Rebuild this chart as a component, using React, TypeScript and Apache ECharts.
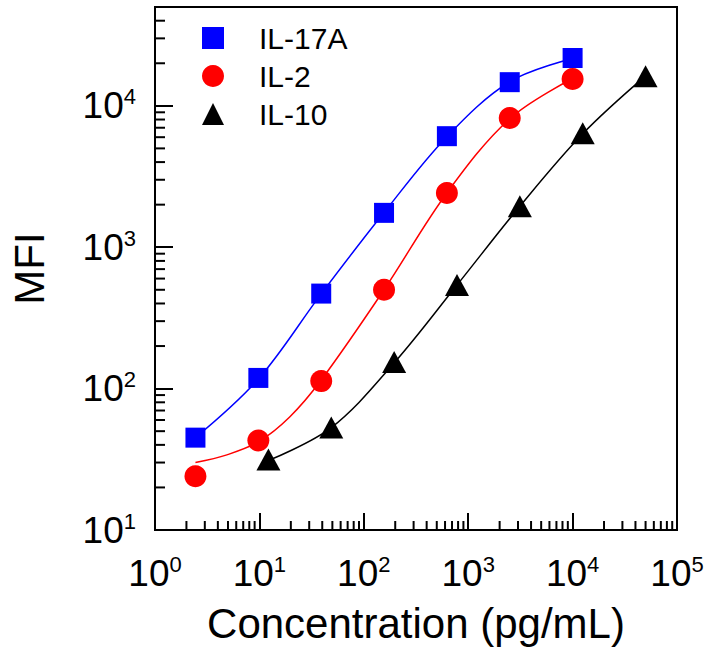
import React, { useEffect, useRef } from "react";
import * as echarts from "echarts";

// Concentrations (pg/mL), 4-fold dilution series
const concA = [2.44, 9.77, 39.1, 156.25, 625, 2500, 10000];
const concB = [12.2, 48.8, 195.3, 781.25, 3125, 12500, 50000];

// Measured MFI
const il17a = [45, 119, 470, 1750, 6100, 14700, 21800];
const il2 = [24, 43, 113, 500, 2420, 8200, 15500];
const il10 = [31.5, 53, 154, 540, 1950, 6400, 16200];

// Fitted curves
const fit17aX = [2.44, 9.77, 39.1, 156.25, 625, 2500, 10000];
const fit17aY = [45, 117, 468, 1760, 6050, 14800, 21600];
const fit2X = [2.44, 4.88, 9.77, 19.5, 39.1, 156.25, 625, 2500, 10000];
const fit2Y = [30, 34, 42, 63, 115, 500, 2420, 8100, 15600];
const fit10X = [12.2, 48.8, 195.3, 781.25, 3125, 12500, 50000];
const fit10Y = [31, 53, 152, 540, 1950, 6350, 16300];

const legendNames = ["IL-17A", "IL-2", "IL-10"];
const xTitle = "Concentration (pg/mL)";
const yTitle = "MFI";

const xMin = 1;
const xMax = 100000;
const yMin = 10;
const yMax = 50000;
const minorMult = [2, 3, 4, 5, 6, 7, 8, 9];
const xDecades = [1, 10, 100, 1000, 10000];
const yDecades = [10, 100, 1000, 10000];

const xMinor: number[] = [];
xDecades.forEach((d) => minorMult.forEach((m) => xMinor.push(m * d)));
const yMinor: number[] = [];
yDecades.forEach((d) => minorMult.forEach((m) => { if (m * d < yMax) yMinor.push(m * d); }));

const FONT = "'Liberation Sans', Arial, sans-serif";

const pow10Label = (v: number) => {
  const e = Math.round(Math.log10(v));
  if (Math.abs(v - Math.pow(10, e)) > 1e-6 * v) return "";
  return `{b|10}{s|${e}}`;
};

const richLabel = {
  b: { fontSize: 37, lineHeight: 40, fontFamily: FONT, color: "#000" },
  s: { fontSize: 22, lineHeight: 22, fontFamily: FONT, color: "#000", verticalAlign: "top" },
};

const zip = (xs: number[], ys: number[]) => xs.map((x, i) => [x, ys[i]]);

export default function App() {
  const ref = useRef<HTMLDivElement>(null);
  useEffect(() => {
    if (!ref.current) return;
    const chart = echarts.init(ref.current, null, { renderer: "svg" });
    chart.setOption({
      animation: false,
      backgroundColor: "#fff",
      textStyle: { fontFamily: FONT },
      grid: {
        left: 153,
        right: 32,
        top: 7,
        bottom: 120,
        show: true,
        borderColor: "#000",
        borderWidth: 2,
        backgroundColor: "transparent",
      },
      legend: {
        data: legendNames,
        orient: "vertical",
        left: 197,
        top: 18,
        itemWidth: 22,
        itemHeight: 22,
        itemGap: 8,
        textStyle: { fontSize: 30, color: "#000", fontFamily: FONT, padding: [0, 0, 0, 30] },
      },
      xAxis: {
        type: "log",
        logBase: 10,
        min: xMin,
        max: xMax,
        name: xTitle,
        nameLocation: "middle",
        nameGap: 72,
        nameTextStyle: { fontSize: 42, color: "#000", fontFamily: FONT },
        axisLine: { show: true, lineStyle: { color: "#000", width: 2 } },
        axisTick: { show: true, inside: true, length: 17, lineStyle: { color: "#000", width: 2 } },
        splitLine: { show: false },
        minorTick: { show: false },
        axisLabel: { margin: 23, formatter: pow10Label, rich: richLabel, showMaxLabel: true, showMinLabel: true },
      },
      yAxis: {
        type: "log",
        logBase: 10,
        min: yMin,
        max: yMax,
        name: yTitle,
        nameLocation: "middle",
        nameGap: 105,
        nameTextStyle: { fontSize: 42, color: "#000", fontFamily: FONT },
        axisLine: { show: true, lineStyle: { color: "#000", width: 2 } },
        axisTick: { show: true, inside: true, length: 18, lineStyle: { color: "#000", width: 2 } },
        splitLine: { show: false },
        minorTick: { show: false },
        axisLabel: { margin: 19, formatter: pow10Label, rich: richLabel },
      },
      series: [
        {
          name: "xMinorTicks",
          type: "custom",
          silent: true,
          z: 1,
          data: xMinor.map((v) => [v, yMin]),
          renderItem: (_p: any, api: any) => {
            const pt = api.coord([api.value(0), api.value(1)]);
            return {
              type: "line",
              shape: { x1: pt[0], y1: pt[1], x2: pt[0], y2: pt[1] - 9 },
              style: { stroke: "#000", lineWidth: 2 },
            };
          },
        },
        {
          name: "yMinorTicks",
          type: "custom",
          silent: true,
          z: 1,
          data: yMinor.map((v) => [xMin, v]),
          renderItem: (_p: any, api: any) => {
            const pt = api.coord([api.value(0), api.value(1)]);
            return {
              type: "line",
              shape: { x1: pt[0], y1: pt[1], x2: pt[0] + 10, y2: pt[1] },
              style: { stroke: "#000", lineWidth: 2 },
            };
          },
        },
        {
          name: "IL-17A fit",
          type: "line",
          data: zip(fit17aX, fit17aY),
          smooth: 0.35,
          showSymbol: false,
          symbol: "none",
          lineStyle: { color: "#0000ff", width: 1.5 },
          z: 2,
        },
        {
          name: "IL-2 fit",
          type: "line",
          data: zip(fit2X, fit2Y),
          smooth: 0.35,
          showSymbol: false,
          symbol: "none",
          lineStyle: { color: "#ff0000", width: 1.5 },
          z: 2,
        },
        {
          name: "IL-10 fit",
          type: "line",
          data: zip(fit10X, fit10Y),
          smooth: 0.35,
          showSymbol: false,
          symbol: "none",
          lineStyle: { color: "#000000", width: 1.5 },
          z: 2,
        },
        {
          name: "IL-17A",
          type: "scatter",
          data: zip(concA, il17a),
          symbol: "rect",
          symbolSize: 20,
          itemStyle: { color: "#0000ff", opacity: 1 },
          z: 3,
        },
        {
          name: "IL-2",
          type: "scatter",
          data: zip(concA, il2),
          symbol: "circle",
          symbolSize: 22,
          itemStyle: { color: "#ff0000", opacity: 1 },
          z: 3,
        },
        {
          name: "IL-10",
          type: "scatter",
          data: zip(concB, il10),
          symbol: "triangle",
          symbolSize: [24, 22],
          itemStyle: { color: "#000000", opacity: 1 },
          z: 3,
        },
      ],
    });
    return () => chart.dispose();
  }, []);
  return (
    <div
      ref={ref}
      style={{ position: "absolute", left: 0, top: 0, width: 709, height: 650, background: "#fff" }}
    />
  );
}
